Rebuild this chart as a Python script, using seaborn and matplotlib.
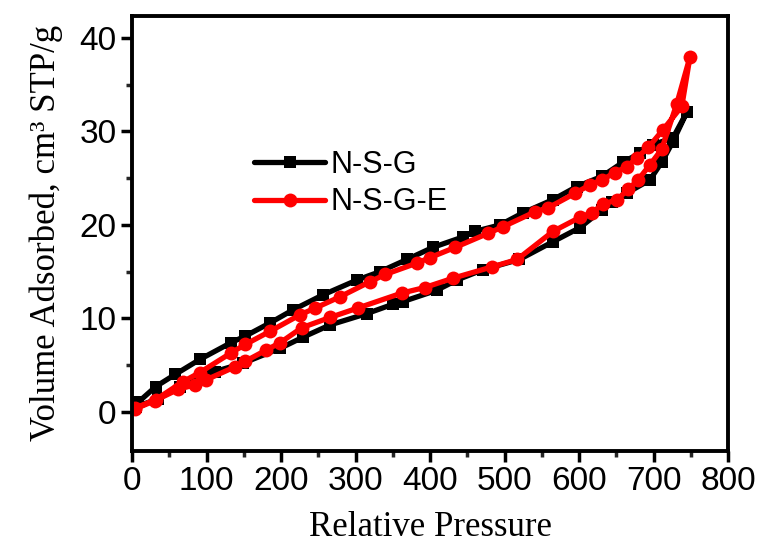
import matplotlib
matplotlib.use("Agg")
import matplotlib.pyplot as plt
import seaborn as sns
import pandas as pd
from matplotlib.ticker import MultipleLocator

# N-S-G : adsorption branch then desorption branch (loop order)
nsg_p = [5, 35, 65, 85, 101, 111, 149, 199, 230, 266, 315, 350, 364, 409, 436, 471,
         520, 565, 601, 631, 644, 664, 695, 711, 726, 745,
         726, 699, 682, 659, 631, 597, 565, 525, 494, 460, 444, 404, 369, 333, 302,
         256, 216, 185, 152, 133, 91, 58, 32, 8]
nsg_v = [0.5, 1.4, 2.7, 3.2, 4.0, 4.3, 5.2, 6.8, 8.0, 9.3, 10.5, 11.5, 11.8, 13.0, 14.1, 15.2,
         16.3, 18.2, 19.7, 21.6, 22.4, 23.4, 24.8, 26.7, 28.9, 32.1,
         29.3, 28.6, 27.7, 26.7, 25.2, 24.1, 22.7, 21.3, 20.0, 19.3, 18.7, 17.6, 16.3, 15.0, 14.1,
         12.5, 10.9, 9.5, 8.1, 7.4, 5.6, 4.0, 2.7, 1.0]

# N-S-G-E : adsorption branch then desorption branch (loop order)
nsge_p = [4, 31, 62, 85, 99, 138, 152, 180, 199, 228, 266, 303, 362, 393, 431, 483,
          517, 565, 601, 617, 632, 651, 666, 679, 695, 711, 731, 749,
          738, 713, 693, 678, 664, 648, 631, 615, 595, 558, 541, 498, 478, 434, 400,
          382, 340, 319, 279, 246, 226, 185, 152, 133, 91, 68, 32, 4]
nsge_v = [0.3, 1.2, 2.4, 2.9, 3.4, 4.8, 5.4, 6.6, 7.4, 9.0, 10.1, 11.1, 12.7, 13.3, 14.3, 15.5,
          16.3, 19.3, 20.8, 21.3, 22.2, 22.7, 23.8, 24.8, 26.4, 28.1, 32.9, 38.0,
          32.7, 30.2, 28.3, 27.2, 26.2, 25.6, 24.8, 24.3, 23.4, 21.8, 21.4, 19.8, 19.1, 17.6, 16.5,
          15.9, 14.7, 13.9, 12.3, 11.1, 10.4, 8.6, 7.2, 6.3, 4.2, 3.2, 1.3, 0.4]

series_names = ["N-S-G", "N-S-G-E"]
x_ticks = [0, 100, 200, 300, 400, 500, 600, 700, 800]
y_ticks = [0, 10, 20, 30, 40]

sns.set_style("ticks")
plt.rcParams['font.family'] = ['Liberation Sans', 'DejaVu Sans']
plt.rcParams['text.color'] = 'black'
plt.rcParams['axes.labelcolor'] = 'black'

fig = plt.figure(figsize=(7.6, 5.48), dpi=100)
ax = fig.add_axes([0.1737, 0.177, 0.7842, 0.7945])

df1 = pd.DataFrame({"p": nsg_p, "v": nsg_v})
df2 = pd.DataFrame({"p": nsge_p, "v": nsge_v})

sns.lineplot(data=df1, x="p", y="v", sort=False, ax=ax, color="black", lw=3.8,
             marker="s", markersize=8.5, markeredgewidth=0, label=series_names[0],
             estimator=None)
sns.lineplot(data=df2, x="p", y="v", sort=False, ax=ax, color="#ff0000", lw=3.8,
             marker="o", markersize=10, markeredgewidth=0, label=series_names[1],
             estimator=None)

ax.set_xlim(0, 800)
ax.set_ylim(-4.2, 42.4)
ax.set_xticks(x_ticks)
ax.set_yticks(y_ticks)
ax.xaxis.set_minor_locator(MultipleLocator(50))
ax.yaxis.set_minor_locator(MultipleLocator(5))

for s in ax.spines.values():
    s.set_linewidth(2.8)
    s.set_color("black")
    s.set_visible(True)

ax.tick_params(which="major", direction="out", length=8, width=2.5, labelsize=24,
               colors="black", pad=3)
ax.tick_params(which="minor", direction="out", length=4.5, width=2.5)

ax.set_xlabel("Relative Pressure", family="Liberation Serif", fontsize=25, labelpad=10,
              color="black")
ax.set_ylabel("Volume Adsorbed, cm\u00b3 STP/g", family="Liberation Serif", fontsize=25,
              labelpad=12, color="black")

leg = ax.legend(loc="upper left", bbox_to_anchor=(0.185, 0.72), frameon=False,
                fontsize=22, handlelength=2.3, handletextpad=0.2, labelspacing=0.25,
                borderaxespad=0)

fig.savefig("out.png", dpi=100)
